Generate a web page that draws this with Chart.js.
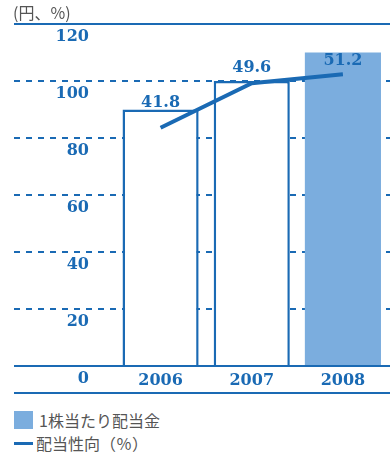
<!DOCTYPE html>
<html><head><meta charset="utf-8">
<script src="https://cdn.jsdelivr.net/npm/chart.js@4"></script>
<style>
html,body{margin:0;padding:0;background:#fff;}
#wrap{position:relative;width:390px;height:454px;overflow:hidden;}
#c{position:absolute;left:0;top:0;}
.t{position:absolute;font-family:"Noto Sans CJK JP","Noto Sans",sans-serif;color:#555;font-size:16px;line-height:16px;white-space:nowrap;}
</style></head><body>
<div id="wrap">
<canvas id="c" width="390" height="396"></canvas>
<div class="t" style="left:13px;top:4px;">(円、%)</div>
<div style="position:absolute;left:14px;top:411px;width:19px;height:18px;background:#7badde"></div>
<div class="t" style="left:39px;top:412px;">1株当たり配当金</div>
<div style="position:absolute;left:14px;top:442px;width:19px;height:3px;background:#1a6ab4"></div>
<div class="t" style="left:36px;top:435px;">配当性向（％）</div>
</div>
<script>
const years = ['2006', '2007', '2008'];
const dividend = [90, 100, 110];        // 1株当たり配当金 (円)
const payoutRatio = [41.8, 49.6, 51.2]; // 配当性向 (%)
const yTicks = [0, 20, 40, 60, 80, 100, 120];

const BLUE = '#1a6ab4';
const LIGHT = '#7badde';
const NUMFONT = {family: '"DejaVu Serif", serif', size: 16, weight: 'bold'};
const labelOffsets = [-25, -15, -13];

const gridPlugin = {
  id: 'gridLines',
  beforeDatasetsDraw(chart) {
    const {ctx, scales: {y}} = chart;
    ctx.save();
    ctx.strokeStyle = BLUE;
    ctx.lineWidth = 2;
    yTicks.forEach(v => {
      if (v === 0 || v === 120) return;
      const py = Math.round(y.getPixelForValue(v));
      ctx.setLineDash([6, 6]);
      ctx.beginPath(); ctx.moveTo(14, py); ctx.lineTo(chart.width, py); ctx.stroke();
    });
    ctx.restore();
  },
  afterDatasetsDraw(chart) {
    const {ctx, scales: {y, x}} = chart;
    ctx.save();
    ctx.strokeStyle = BLUE;
    ctx.lineWidth = 2;
    ctx.setLineDash([]);
    [y.getPixelForValue(0), y.getPixelForValue(120), x.bottom].forEach(p => {
      const py = Math.round(p);
      ctx.beginPath(); ctx.moveTo(14, py); ctx.lineTo(chart.width, py); ctx.stroke();
    });
    const meta = chart.getDatasetMeta(1);
    ctx.fillStyle = BLUE;
    ctx.font = 'bold 16px "DejaVu Serif", serif';
    ctx.textAlign = 'center';
    ctx.textBaseline = 'middle';
    meta.data.forEach((pt, i) => {
      ctx.fillText(payoutRatio[i].toFixed(1), pt.x, pt.y + labelOffsets[i]);
    });
    ctx.restore();
  }
};

new Chart(document.getElementById('c'), {
  data: {
    labels: years,
    datasets: [
      {
        type: 'bar',
        label: '1株当たり配当金',
        data: dividend,
        backgroundColor: ['#ffffff', '#ffffff', LIGHT],
        borderColor: [BLUE, BLUE, 'rgba(0,0,0,0)'],
        borderWidth: [2.5, 2.5, 0],
        borderSkipped: 'bottom',
        categoryPercentage: 1,
        barPercentage: 0.835,
        yAxisID: 'y',
        order: 2
      },
      {
        type: 'line',
        label: '配当性向(%)',
        data: payoutRatio,
        borderColor: BLUE,
        borderWidth: 4,
        pointRadius: 0,
        tension: 0,
        fill: false,
        yAxisID: 'y1',
        order: 1
      }
    ]
  },
  options: {
    responsive: false,
    animation: false,
    devicePixelRatio: 1,
    layout: {padding: {top: 24, right: 1.5, bottom: 3, left: 0}},
    plugins: {legend: {display: false}, tooltip: {enabled: false}},
    scales: {
      x: {
        grid: {display: false, drawTicks: false},
        border: {display: false},
        ticks: {color: BLUE, font: NUMFONT, padding: 5},
        afterFit(s) { s.height = 27; s.paddingLeft = 0; s.paddingRight = 0; }
      },
      y: {
        min: 0, max: 120,
        grid: {display: false, drawTicks: false},
        border: {display: false},
        ticks: {stepSize: 20, color: BLUE, font: NUMFONT, padding: 26, labelOffset: 13},
        afterFit(s) { s.width = 115; s.paddingTop = 0; s.paddingBottom = 0; }
      },
      y1: {
        min: 0, max: 60,
        display: false
      }
    }
  },
  plugins: [gridPlugin]
});
</script>
</body></html>
